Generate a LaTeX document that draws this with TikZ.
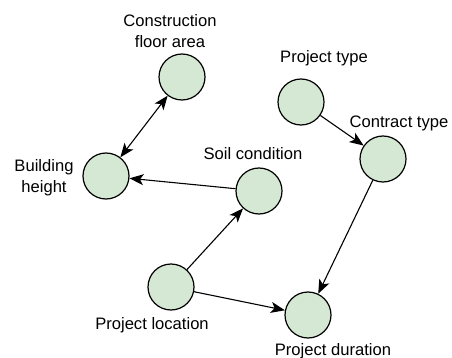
\documentclass[tikz,border=0pt]{standalone}
\usepackage{fontspec}
\setmainfont{Liberation Sans}
\usetikzlibrary{arrows.meta}
\definecolor{nodefill}{HTML}{D5E8D4}
\begin{document}
\begin{tikzpicture}[x=1pt,y=-1pt,
  var/.style={circle,draw=black,fill=nodefill,line width=1.2pt,minimum size=46pt,inner sep=0pt},
  lbl/.style={font=\fontsize{16.6}{21.5}\selectfont,align=center,inner sep=0pt,anchor=base},
  link/.style={line width=1.1pt,-{Stealth[length=14pt,width=11pt,inset=3.5pt]}},
  blink/.style={line width=1.1pt,{Stealth[length=14pt,width=11pt,inset=3.5pt]}-{Stealth[length=14pt,width=11pt,inset=3.5pt]}}]
\useasboundingbox (0,0) rectangle (452,358);
\node[var] (cfa) at (182,77) {};
\node[var] (bh) at (106,176) {};
\node[var] (pt) at (301,102) {};
\node[var] (ct) at (383,159) {};
\node[var] (sc) at (259,191) {};
\node[var] (pl) at (171,287) {};
\node[var] (pd) at (308,315) {};
\node[lbl] (lcfa) at (170,48) {Construction\\floor area};
\node[lbl] (lbh) at (44,193) {Building\\height};
\node[lbl] (lpt) at (324,63) {Project type};
\node[lbl] (lct) at (399,128) {Contract type};
\node[lbl] (lsc) at (253,160) {Soil condition};
\node[lbl] (lpl) at (152,329) {Project location};
\node[lbl] (lpd) at (333,355) {Project duration};
\draw[blink] (bh) -- (cfa);
\draw[link] (sc) -- (bh);
\draw[link] (pl) -- (sc);
\draw[link] (pl) -- (pd);
\draw[link] (pt) -- (ct);
\draw[link] (ct) -- (pd);
\end{tikzpicture}
\end{document}
